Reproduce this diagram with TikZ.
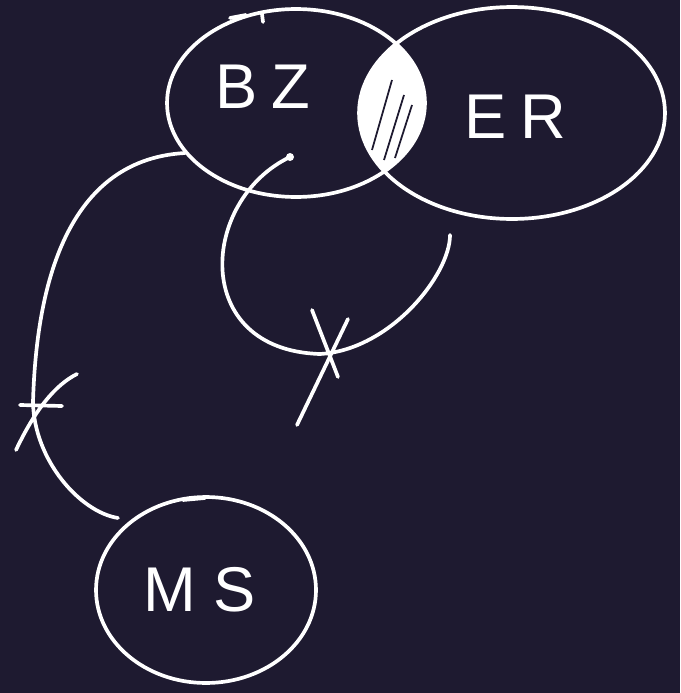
\documentclass[tikz,border=0pt]{standalone}
\usepackage{fontspec}
\setmainfont{Liberation Sans}
\usetikzlibrary{shapes.geometric}
\definecolor{bgc}{RGB}{30,26,48}
\begin{document}
\begin{tikzpicture}[x=0.02cm,y=-0.02cm,
  ink/.style={draw=white,line width=2.1pt,line cap=round,line join=round},
  blob/.style={ink,ellipse,inner sep=0pt},
  lbl/.style={text=white,font=\fontsize{36}{36}\selectfont}]
\fill[bgc] (0,0) rectangle (680,693);
\useasboundingbox (0,0) rectangle (680,693);
% shaded intersection
\begin{scope}
  \clip (296,103) ellipse [x radius=129, y radius=94];
  \fill[white] (512,113) ellipse [x radius=153, y radius=106];
  \draw[bgc,line width=1pt] (372,150) -- (392,80);
  \draw[bgc,line width=1pt] (384,160) -- (404,95);
  \draw[bgc,line width=1pt] (395,158) -- (412,105);
\end{scope}
\node[blob,minimum width=5.16cm,minimum height=3.76cm] (bz) at (296,103) {};
\node[blob,minimum width=6.12cm,minimum height=4.24cm] (er) at (512,113) {};
\node[blob,minimum width=4.40cm,minimum height=3.72cm] (ms) at (206,590) {};
\node[lbl] (bzl) at (263,87) {B\hspace{8pt}Z};
\node[lbl] (erl) at (515,117) {E\hspace{8pt}R};
\node[lbl] (msl) at (200,590) {M\hspace{10pt}S};
% connector BZ -> MS
\coordinate (a1) at (185,153);
\coordinate (a2) at (118,518);
\coordinate (am) at (33,402);
\draw[ink] (a1) .. controls (60,160) and (36,300) .. (am) .. controls (34,460) and (80,512) .. (a2);
\draw[ink] (20,405) -- (62,406);
\draw[ink] (16,450) .. controls (35,410) and (55,385) .. (77,374);
% connector from dot in BZ
\coordinate (b1) at (290,157);
\coordinate (bm) at (320,354);
\coordinate (b2) at (450,235);
\fill[white] (b1) circle (4);
\draw[ink] (b1) .. controls (200,200) and (190,350) .. (bm) .. controls (390,350) and (450,275) .. (b2);
\draw[ink] (297,425) -- (348,319);
\draw[ink] (312,310) -- (338,377);
% small ticks
\draw[ink] (262,14) -- (263,22);
\draw[ink] (230,18) -- (246,15);
\draw[ink] (183,500) -- (205,498);
\end{tikzpicture}
\end{document}
